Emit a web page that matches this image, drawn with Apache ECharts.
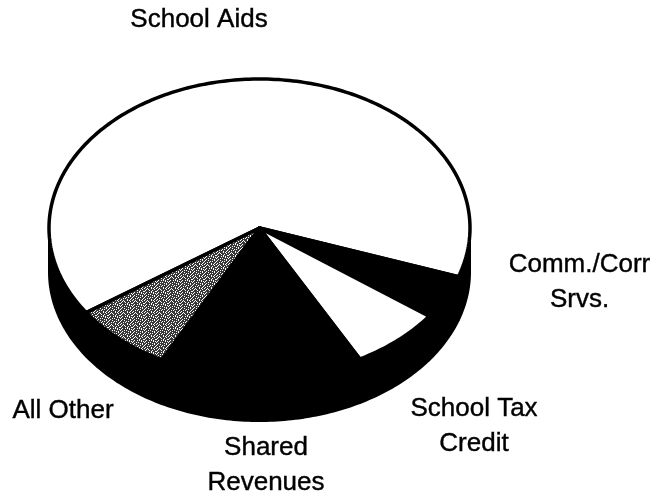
<!DOCTYPE html>
<html>
<head>
<meta charset="utf-8">
<style>html,body{margin:0;padding:0;background:#fff}#chart{width:656px;height:496px}</style>
<script src="https://cdn.jsdelivr.net/npm/echarts@6/dist/echarts.min.js"></script>
</head>
<body>
<div id="chart"></div>
<script>
// Budget shares, percent of the total, clockwise from the School Aids edge.
const categories = ["School Aids", "Comm./Corr\nSrvs.", "School Tax\nCredit", "Shared\nRevenues", "All Other"];
const shares = [64.9, 4.8, 7.0, 15.6, 7.7];
const fillKinds = ["white", "black", "white", "black", "stipple"];

// Disc geometry.
const CX = 259.5, CY = 228, RX = 210.5, RY = 149, DEPTH = 44;
const START_DEG = 145.4;
const INK = "#000";

// Caption anchors (centre of the text block), one per category.
const captionX = [199, 579.5, 474, 266, 63];
const captionY = [20, 282, 426, 465, 411];

function stippleTile() {
  const rows = ["#..#...#.#..", "..#.#.....#.", ".#...#..#...", "#......#...#", "..#..#.#.#..", ".#.......#.#", "#...#.#.....", "..#.....#.#.", ".#..#.....#.", "#.....#.#...", "...#.#.....#", ".#.....#..#."];
  const c = document.createElement("canvas");
  c.width = c.height = rows.length;
  const g = c.getContext("2d");
  g.fillStyle = "#383838";
  g.fillRect(0, 0, c.width, c.height);
  g.fillStyle = "#fff";
  rows.forEach((r, y) => [...r].forEach((ch, x) => { if (ch === "#") g.fillRect(x, y, 1, 1); }));
  return { type: "pattern", image: c, repeat: "repeat" };
}
const fills = { white: "#fff", black: INK, stipple: stippleTile() };

function rimPoint(deg, drop) {
  const t = deg * Math.PI / 180;
  return [CX + RX * Math.cos(t), CY + RY * Math.sin(t) + drop];
}
function arc(a, b, drop) {
  const pts = [];
  const n = Math.max(2, Math.ceil(Math.abs(b - a)));
  for (let i = 0; i <= n; i++) pts.push(rimPoint(a + (b - a) * i / n, drop));
  return pts;
}

const total = shares.reduce((s, v) => s + v, 0);

function renderSlice(params, api) {
  const i = params.dataIndex;
  let before = 0;
  for (let k = 0; k < i; k++) before += shares[k];
  const a = START_DEG + before / total * 360;
  const b = a + api.value(0) / total * 360;
  const children = [];

  // Outer wall: only the part of the rim that faces the viewer.
  [0, 360].forEach(off => {
    const lo = Math.max(a, off), hi = Math.min(b, off + 180);
    if (hi > lo) {
      children.push({
        type: "polygon",
        z2: 0,
        shape: { points: arc(lo, hi, 0).concat(arc(hi, lo, DEPTH)) },
        style: { fill: INK, stroke: INK, lineWidth: 2, lineJoin: "round" }
      });
    }
  });

  // Top face of the slice.
  children.push({
    type: "polygon",
    z2: 2,
    shape: { points: [[CX, CY]].concat(arc(a, b, 0)) },
    style: { fill: fills[fillKinds[i]], stroke: INK, lineWidth: 3.5, lineJoin: "round" }
  });

  children.push({
    type: "text",
    z2: 10,
    style: {
      text: categories[i], x: captionX[i], y: captionY[i],
      font: '26px "Liberation Sans", Arial, sans-serif',
      fill: "#000", stroke: "#000", lineWidth: 0.4,
      align: "center", verticalAlign: "middle", lineHeight: 35
    }
  });
  return { type: "group", children };
}

const chart = echarts.init(document.getElementById("chart"), null, { renderer: "canvas" });
chart.setOption({
  animation: false,
  backgroundColor: "#fff",
  series: [{
    type: "custom",
    coordinateSystem: "none",
    silent: true,
    data: shares.map(v => [v]),
    renderItem: renderSlice
  }]
});
</script>
</body>
</html>
